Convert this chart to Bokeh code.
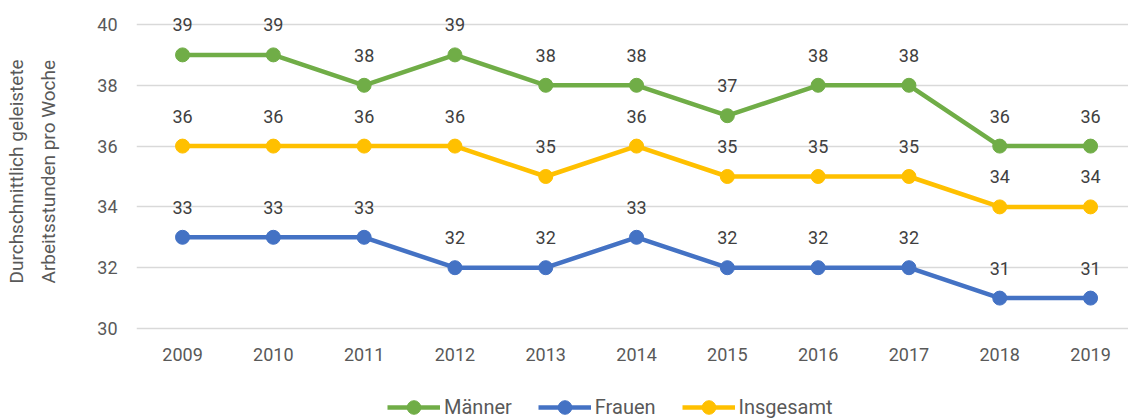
from bokeh.plotting import figure
from bokeh.models import ColumnDataSource, Range1d, FixedTicker, Legend, LegendItem, Title
from bokeh.core.properties import value
from bokeh.embed import file_html
from bokeh.resources import INLINE

years = [2009, 2010, 2011, 2012, 2013, 2014, 2015, 2016, 2017, 2018, 2019]
maenner = [39, 39, 38, 39, 38, 38, 37, 38, 38, 36, 36]
frauen = [33, 33, 33, 32, 32, 33, 32, 32, 32, 31, 31]
insgesamt = [36, 36, 36, 36, 35, 36, 35, 35, 35, 34, 34]
y_ticks = [30, 32, 34, 36, 38, 40]
y_title_lines = ["Durchschnittlich geleistete", "Arbeitsstunden pro Woche"]

FONT = "Roboto"
p = figure(width=1128, height=419, output_backend="svg", toolbar_location=None,
           x_range=Range1d(2008.493, 2019.418), y_range=Range1d(27.007, 40.789),
           min_border_left=136, min_border_right=0, min_border_top=0, min_border_bottom=0)
p.outline_line_color = None
p.background_fill_color = "white"
p.border_fill_color = "white"

p.xgrid.grid_line_color = None
p.ygrid.grid_line_color = "#D9D9D9"
p.ygrid.grid_line_width = 1.3
p.yaxis.ticker = FixedTicker(ticks=y_ticks)
p.xaxis.ticker = FixedTicker(ticks=years)
p.xaxis.fixed_location = 29.934
for ax in (p.xaxis, p.yaxis):
    ax.axis_line_color = None
    ax.major_tick_line_color = None
    ax.minor_tick_line_color = None
    ax.major_tick_out = 0
    ax.major_tick_in = 0
    ax.major_label_text_font = FONT
    ax.major_label_text_font_size = "18px"
    ax.major_label_text_color = "#595959"
p.xaxis.major_label_standoff = 17
p.yaxis.major_label_standoff = 19

# third (blank) line pads the gap between the title and the tick labels
title_kw = dict(text="\n".join(y_title_lines + [" "]), align="left", vertical_align="top",
                offset=136, text_font=FONT, text_font_size="19px",
                text_font_style="normal", text_color="#595959", text_line_height=1.42)
if "standoff" in Title.properties():
    title_kw["standoff"] = 0
p.add_layout(Title(**title_kw), "left")

series = [("Männer", maenner, "#70AD47"), ("Frauen", frauen, "#4472C4"), ("Insgesamt", insgesamt, "#FFC000")]
items = []
for name, vals, color in series:
    src = ColumnDataSource(dict(x=years, y=vals, t=[str(v) for v in vals]))
    l = p.line("x", "y", source=src, line_color=color, line_width=4.5)
    s = p.scatter("x", "y", source=src, size=14, fill_color=color, line_color=color)
    p.text("x", "y", text="t", source=src, text_align="center", text_baseline="middle",
           y_offset=-30, text_font=value(FONT), text_font_size="18px", text_color="#404040")
    items.append(LegendItem(label=name, renderers=[l, s]))

legend = Legend(items=items, orientation="horizontal", location=(251, -5),
                glyph_width=53, glyph_height=34, label_standoff=4, spacing=26,
                padding=0, margin=0, border_line_color=None, background_fill_alpha=0,
                label_text_font=FONT, label_text_font_size="20px", label_text_color="#595959")
p.add_layout(legend, "center")

open("out.html", "w").write(file_html(p, INLINE))
